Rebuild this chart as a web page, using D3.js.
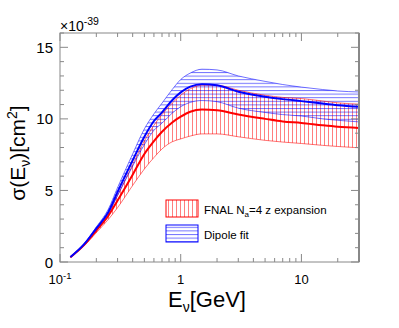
<!DOCTYPE html>
<html>
<head>
<meta charset="utf-8">
<script src="https://cdn.jsdelivr.net/npm/d3@7"></script>
<style>
  body { margin: 0; background: #fff; }
  #chart-container { width: 399px; height: 328px; }
  text { font-family: "Liberation Sans", Arial, sans-serif; fill: #000; }
</style>
</head>
<body>
<div id="chart-container"></div>
<script>
const chartContainer = document.getElementById("chart-container");

// neutrino energy in GeV
const energies = [0.122, 0.158, 0.2, 0.25, 0.3, 0.4, 0.5, 0.6, 0.7, 0.85, 1, 1.2, 1.5, 2, 3, 5, 7, 10, 15, 20, 30];

// dipole fit (units of 1e-39 cm^2)
const dipoleCentral = [0.35, 1.23, 2.35, 3.45, 4.9, 7.1, 8.75, 9.85, 10.45, 11.3, 11.85, 12.25, 12.42, 12.35, 11.9, 11.55, 11.38, 11.24, 11.07, 10.96, 10.84];
const dipoleUpper = [0.38, 1.28, 2.45, 3.65, 5.2, 7.55, 9.3, 10.35, 11.1, 12.05, 12.75, 13.2, 13.47, 13.42, 13.0, 12.62, 12.4, 12.22, 12.05, 11.95, 11.88];
const dipoleLower = [0.33, 1.18, 2.25, 3.3, 4.65, 6.7, 8.2, 9.2, 9.7, 10.4, 10.85, 11.15, 11.28, 11.2, 10.75, 10.45, 10.3, 10.2, 10.0, 9.9, 9.79];

// FNAL z expansion
const zexpCentral = [0.33, 1.18, 2.2, 3.2, 4.3, 6.1, 7.55, 8.45, 9.1, 9.75, 10.15, 10.5, 10.65, 10.6, 10.3, 10.0, 9.82, 9.72, 9.55, 9.45, 9.37];
const zexpUpper = [0.34, 1.22, 2.3, 3.4, 4.65, 6.8, 8.45, 9.55, 10.3, 11.1, 11.65, 12.1, 12.35, 12.35, 12.0, 11.65, 11.5, 11.42, 11.25, 11.12, 11.03];
const zexpLower = [0.32, 1.12, 2.05, 2.95, 3.8, 5.35, 6.5, 7.3, 7.9, 8.4, 8.6, 8.8, 8.95, 8.95, 8.75, 8.5, 8.38, 8.28, 8.15, 8.07, 7.98];

const xTicks = [0.1, 1, 10];
const yTicks = [0, 5, 10, 15];

const width = 399;
const height = 328;
const margin = { top: 33, right: 40, bottom: 66, left: 60 };

const svg = d3
  .select(chartContainer)
  .append("svg")
  .attr("width", width)
  .attr("height", height);

const x = d3.scaleLog().domain([0.1, 30]).range([margin.left, width - margin.right]);
const y = d3.scaleLinear().domain([0, 16]).range([height - margin.bottom, margin.top]);

const defs = svg.append("defs");
defs.append("clipPath").attr("id", "frame")
  .append("rect")
  .attr("x", x(0.1)).attr("y", y(16))
  .attr("width", x(30) - x(0.1)).attr("height", y(0) - y(16));

// vertical hatch for the red band, horizontal for the blue band
const vHatch = defs.append("pattern").attr("id", "vhatch")
  .attr("patternUnits", "userSpaceOnUse").attr("width", 4).attr("height", 4);
vHatch.append("line").attr("x1", 0.5).attr("x2", 0.5).attr("y1", 0).attr("y2", 4)
  .attr("stroke", "#ff0000").attr("stroke-opacity", 0.5).attr("stroke-width", 1);

const hHatch = defs.append("pattern").attr("id", "hhatch")
  .attr("patternUnits", "userSpaceOnUse").attr("width", 4).attr("height", 3.6);
hHatch.append("line").attr("x1", 0).attr("x2", 4).attr("y1", 0.5).attr("y2", 0.5)
  .attr("stroke", "#0000ff").attr("stroke-opacity", 0.55).attr("stroke-width", 1);

const rows = energies.map((e, i) => ({
  e,
  dc: dipoleCentral[i], du: dipoleUpper[i], dl: dipoleLower[i],
  zc: zexpCentral[i], zu: zexpUpper[i], zl: zexpLower[i],
}));

const curve = d3.curveMonotoneX;
const band = (lo, hi) => d3.area().x((d) => x(d.e)).y0((d) => y(d[lo])).y1((d) => y(d[hi])).curve(curve);
const line = (key) => d3.line().x((d) => x(d.e)).y((d) => y(d[key])).curve(curve);

const plot = svg.append("g").attr("clip-path", "url(#frame)");

plot.append("path").datum(rows).attr("d", band("zl", "zu")).attr("fill", "url(#vhatch)");
plot.append("path").datum(rows).attr("d", band("dl", "du")).attr("fill", "url(#hhatch)");

[["zl", "#ff0000"], ["zu", "#ff0000"], ["dl", "#0000ff"], ["du", "#0000ff"]].forEach(([k, c]) => {
  plot.append("path").datum(rows).attr("d", line(k))
    .attr("fill", "none").attr("stroke", c).attr("stroke-opacity", 0.55).attr("stroke-width", 1);
});
plot.append("path").datum(rows).attr("d", line("zc"))
  .attr("fill", "none").attr("stroke", "#ff0000").attr("stroke-width", 2);
plot.append("path").datum(rows).attr("d", line("dc"))
  .attr("fill", "none").attr("stroke", "#0000ff").attr("stroke-width", 2);

// frame and ticks (ROOT style, ticks inside on all four sides)
const axisColor = "#888";
const x0 = x(0.1), x1 = x(30), yb = y(0), yt = y(16);
svg.append("rect").attr("x", x0).attr("y", yt).attr("width", x1 - x0).attr("height", yb - yt)
  .attr("fill", "none").attr("stroke", axisColor).attr("stroke-width", 1);
svg.append("line").attr("x1", x1).attr("x2", x1).attr("y1", yt).attr("y2", yb)
  .attr("stroke", axisColor).attr("stroke-width", 2);

const xMinor = [];
[0.1, 1, 10].forEach((dec) => {
  for (let k = 2; k <= 9; k++) if (dec * k <= 30) xMinor.push(dec * k);
});
const tickG = svg.append("g").attr("stroke", axisColor).attr("stroke-width", 1);
xTicks.forEach((v) => {
  tickG.append("line").attr("x1", x(v)).attr("x2", x(v)).attr("y1", yb).attr("y2", yb - 8);
  tickG.append("line").attr("x1", x(v)).attr("x2", x(v)).attr("y1", yt).attr("y2", yt + 8);
});
xMinor.forEach((v) => {
  tickG.append("line").attr("x1", x(v)).attr("x2", x(v)).attr("y1", yb).attr("y2", yb - 4);
  tickG.append("line").attr("x1", x(v)).attr("x2", x(v)).attr("y1", yt).attr("y2", yt + 4);
});
d3.range(0, 17).forEach((v) => {
  const len = v % 5 === 0 ? 8 : 4;
  tickG.append("line").attr("x1", x0).attr("x2", x0 + len).attr("y1", y(v)).attr("y2", y(v));
  tickG.append("line").attr("x1", x1).attr("x2", x1 - len).attr("y1", y(v)).attr("y2", y(v));
});

// tick labels
const xLab = svg.append("g").attr("font-size", 13);
xTicks.forEach((v) => {
  const t = xLab.append("text").attr("x", x(v)).attr("y", yb + 22).attr("text-anchor", "middle");
  if (v === 0.1) {
    t.append("tspan").text("10");
    t.append("tspan").attr("dy", -5).attr("font-size", 9.5).text("-1");
  } else {
    t.text(d3.format("d")(v));
  }
});
svg.append("g").attr("font-size", 15).selectAll("text").data(yTicks).join("text")
  .attr("x", x0 - 7).attr("y", (d) => y(d) + 5.5).attr("text-anchor", "end").text((d) => d);

// exponent
const ex = svg.append("text").attr("x", x0).attr("y", 31).attr("font-size", 14);
ex.append("tspan").text("\u00d710");
ex.append("tspan").attr("dy", -6).attr("font-size", 10.5).text("-39");

// axis titles
const xt = svg.append("text").attr("x", 207).attr("y", 307).attr("text-anchor", "middle").attr("font-size", 22);
xt.append("tspan").text("E");
xt.append("tspan").attr("dy", 5).attr("font-size", 14).text("\u03bd");
xt.append("tspan").attr("dy", -5).text("[GeV]");

const yt2 = svg.append("text").attr("transform", "translate(25,153) rotate(-90)")
  .attr("text-anchor", "middle").attr("font-size", 21);
yt2.append("tspan").text("\u03c3(E");
yt2.append("tspan").attr("dy", 5).attr("font-size", 14).text("\u03bd");
yt2.append("tspan").attr("dy", -5).text(")[cm");
yt2.append("tspan").attr("dy", -8).attr("font-size", 14).text("2");
yt2.append("tspan").attr("dy", 8).text("]");

// legend
const legend = [
  { fill: "url(#vhatch)", color: "#ff0000", y: 200 },
  { fill: "url(#hhatch)", color: "#0000ff", y: 225 },
];
legend.forEach((l) => {
  svg.append("rect").attr("x", 166).attr("y", l.y).attr("width", 32).attr("height", 17)
    .attr("fill", l.fill).attr("stroke", l.color).attr("stroke-width", 1);
});
const l1 = svg.append("text").attr("x", 204).attr("y", 214).attr("font-size", 11.5);
l1.append("tspan").text("FNAL N");
l1.append("tspan").attr("dy", 3).attr("font-size", 8).text("a");
l1.append("tspan").attr("dy", -3).text("=4 z expansion");
svg.append("text").attr("x", 204).attr("y", 239).attr("font-size", 11.5).text("Dipole fit");
</script>
</body>
</html>
